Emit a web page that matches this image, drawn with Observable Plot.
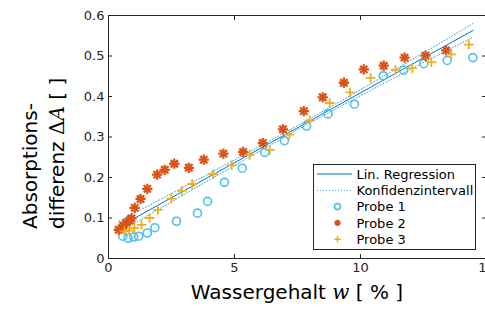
<!DOCTYPE html>
<html><head><meta charset="utf-8">
<script src="https://cdn.jsdelivr.net/npm/d3@7"></script>
<script src="https://cdn.jsdelivr.net/npm/@observablehq/plot@0.6"></script>
<style>
html,body{margin:0;padding:0;background:#fff;overflow:hidden}
svg{overflow:visible}
</style>
</head><body>
<div id="chart"></div>
<script>
// Probe 1 (circles)
const p1W = [0.57,0.78,1.00,1.20,1.54,1.84,2.70,3.53,3.93,4.60,5.31,6.20,6.98,7.86,8.71,9.76,10.90,11.71,12.51,13.44,14.46];
const p1A = [0.055,0.050,0.053,0.055,0.063,0.076,0.092,0.112,0.141,0.188,0.223,0.262,0.291,0.327,0.357,0.381,0.451,0.465,0.481,0.489,0.496];
// Probe 2 (asterisks)
const p2W = [0.41,0.58,0.71,0.85,0.91,1.04,1.27,1.54,1.93,2.23,2.61,3.19,3.78,4.56,5.34,6.12,6.92,7.75,8.50,9.34,10.13,10.92,11.75,12.58,13.40];
const p2A = [0.071,0.081,0.088,0.094,0.099,0.125,0.147,0.172,0.207,0.219,0.234,0.224,0.244,0.259,0.263,0.285,0.319,0.364,0.398,0.434,0.467,0.476,0.496,0.501,0.514];
// Probe 3 (plus)
const p3W = [0.63,0.82,1.03,1.31,1.63,1.96,2.49,2.91,3.32,4.15,4.89,5.60,6.40,7.18,7.98,8.78,9.58,10.40,11.39,12.06,12.81,13.60,14.30];
const p3A = [0.067,0.069,0.075,0.083,0.100,0.120,0.148,0.167,0.184,0.208,0.230,0.256,0.268,0.306,0.341,0.384,0.410,0.446,0.466,0.470,0.485,0.504,0.528];
// Linear regression (read endpoints)
const regW = [0.41, 14.46];
const regA = [0.078, 0.563];
// Confidence interval
const ciW = [0.41, 2, 4, 6, 7.5, 9, 11, 13, 14.46];
const ciUp = [0.092, 0.144, 0.210, 0.277, 0.328, 0.381, 0.453, 0.526, 0.580];
const ciLo = [0.064, 0.122, 0.194, 0.265, 0.318, 0.369, 0.435, 0.500, 0.546];
const xTicks = [0, 5, 10, 15];
const yTicks = [0, 0.1, 0.2, 0.3, 0.4, 0.5, 0.6];
const legendLabels = ["Lin. Regression", "Konfidenzintervall", "Probe 1", "Probe 2", "Probe 3"];

const C1 = "#4DBEEE", C2 = "#D95319", C3 = "#EDB120", CL = "#0072BD", CI = "#3d9ee0", AX = "#262626";
const p1 = p1W.map((w,i)=>({w, a:p1A[i]}));
const p2 = p2W.map((w,i)=>({w, a:p2A[i]}));
const p3 = p3W.map((w,i)=>({w, a:p3A[i]}));
const reg = regW.map((w,i)=>({w, a:regA[i]}));
const up = ciW.map((w,i)=>({w, a:ciUp[i]}));
const lo = ciW.map((w,i)=>({w, a:ciLo[i]}));

const chart = Plot.plot({
  width: 485, height: 309,
  marginTop: 15, marginBottom: 51, marginLeft: 108, marginRight: 0,
  style: {fontFamily: "DejaVu Sans", fontSize: "13px", color: AX, background: "white"},
  x: {domain: [0, 15], range: [108, 486]},
  y: {domain: [0, 0.6], range: [258, 15]},
  marks: [
    Plot.line(up, {x: "w", y: "a", stroke: CI, strokeWidth: 1, strokeDasharray: "1,2"}),
    Plot.line(lo, {x: "w", y: "a", stroke: CI, strokeWidth: 1, strokeDasharray: "1,2"}),
    Plot.line(reg, {x: "w", y: "a", stroke: CL, strokeWidth: 1}),
    Plot.dot(p1, {x: "w", y: "a", symbol: "circle", r: 4, stroke: C1, strokeWidth: 1.6, fill: "none"}),
    Plot.dot(p2, {x: "w", y: "a", symbol: "plus", r: 3.4, stroke: C2, strokeWidth: 2.3}),
    Plot.dot(p2, {x: "w", y: "a", symbol: "times", r: 3.4, stroke: C2, strokeWidth: 2.3}),
    Plot.dot(p3, {x: "w", y: "a", symbol: "plus", r: 3.2, stroke: C3, strokeWidth: 1.8}),
    Plot.axisX({ticks: xTicks, tickSize: -4, tickPadding: 8, label: null}),
    Plot.axisX({anchor: "top", ticks: xTicks, tickSize: -4, tickFormat: () => "", label: null}),
    Plot.axisY({ticks: yTicks, tickSize: -4, tickPadding: 8, label: null, tickFormat: d3.format(".1~f")}),
    Plot.axisY({anchor: "right", ticks: yTicks, tickSize: -4, tickFormat: () => "", label: null}),
    Plot.frame({stroke: AX, strokeWidth: 1})
  ]
});
document.getElementById("chart").appendChild(chart);

const svg = d3.select(chart);
// axis labels
const xl = svg.append("text").attr("x", 297).attr("y", 299).attr("text-anchor", "middle")
  .attr("font-family", "DejaVu Sans").attr("font-size", 20).attr("fill", "#000");
xl.append("tspan").text("Wassergehalt ");
xl.append("tspan").attr("font-family", "DejaVu Serif").attr("font-style", "italic").text("w");
xl.append("tspan").text(" [ % ]");

const yg = svg.append("g").attr("font-family", "DejaVu Sans").attr("font-size", 20).attr("fill", "#000");
yg.append("text").attr("transform", "translate(37,229) rotate(-90)").attr("text-anchor", "start").text("Absorptions-");
const y2 = yg.append("text").attr("transform", "translate(64,229) rotate(-90)").attr("text-anchor", "start");
y2.append("tspan").text("differenz ");
y2.append("tspan").attr("font-family", "DejaVu Serif").text("Δ");
y2.append("tspan").attr("font-family", "DejaVu Serif").attr("font-style", "italic").text("A");
y2.append("tspan").text(" [ ]");

// legend
const lg = svg.append("g").attr("font-family", "DejaVu Sans").attr("font-size", 13).attr("fill", "#000");
lg.append("rect").attr("x", 313.5).attr("y", 164.5).attr("width", 162).attr("height", 85)
  .attr("fill", "white").attr("stroke", AX).attr("stroke-width", 1);
const rowY = [174, 190.3, 206.6, 222.9, 239.2];
legendLabels.forEach((t, i) => {
  lg.append("text").attr("x", 356.5).attr("y", rowY[i]).attr("dy", "0.36em").attr("text-anchor", "start").text(t);
});
lg.append("line").attr("x1", 317).attr("x2", 352).attr("y1", rowY[0]).attr("y2", rowY[0]).attr("stroke", CL).attr("stroke-width", 1);
lg.append("line").attr("x1", 317).attr("x2", 352).attr("y1", rowY[1]).attr("y2", rowY[1]).attr("stroke", CI).attr("stroke-width", 1).attr("stroke-dasharray", "1,2");
lg.append("circle").attr("cx", 337.5).attr("cy", rowY[2]).attr("r", 3).attr("fill", "none").attr("stroke", C1).attr("stroke-width", 1.6);
lg.append("path").attr("transform", `translate(337.5,${rowY[3]})`).attr("d", d3.symbol(d3.symbolPlus, 14)()).attr("fill", "none").attr("stroke", C2).attr("stroke-width", 2.2);
lg.append("path").attr("transform", `translate(337.5,${rowY[3]})`).attr("d", d3.symbol(d3.symbolTimes, 14)()).attr("fill", "none").attr("stroke", C2).attr("stroke-width", 2.2);
lg.append("path").attr("transform", `translate(337.5,${rowY[4]})`).attr("d", d3.symbol(d3.symbolPlus, 16)()).attr("fill", "none").attr("stroke", C3).attr("stroke-width", 1.6);
</script>
</body></html>
